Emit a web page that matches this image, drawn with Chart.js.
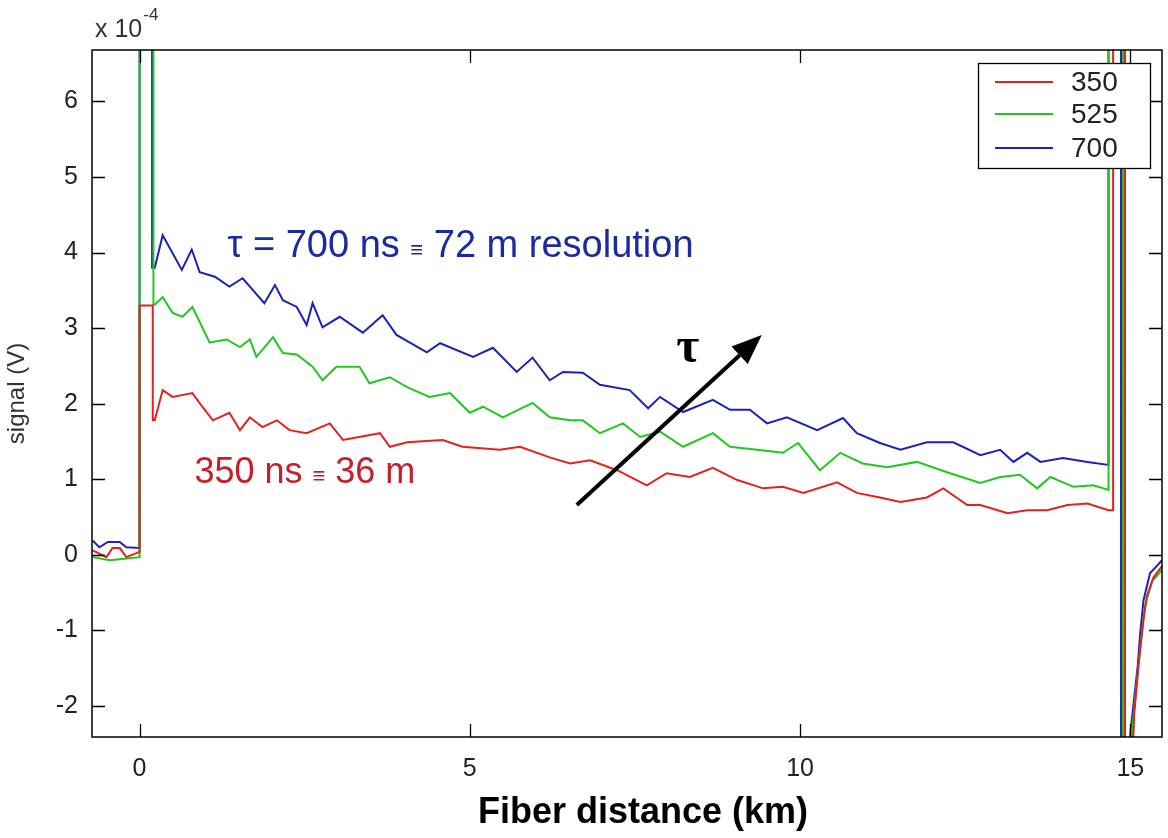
<!DOCTYPE html>
<html>
<head>
<meta charset="utf-8">
<title>OTDR trace</title>
<script src="https://cdn.jsdelivr.net/npm/chart.js@4.4.1/dist/chart.umd.min.js"></script>
<style>
  html, body { margin: 0; padding: 0; background: #fff; }
  canvas { display: block; }
</style>
</head>
<body>
<canvas id="otdr" width="1168" height="838"></canvas>
<script>
// pulse widths (ns) shown in the legend
const pulseLabels = ["350", "525", "700"];
const xTicksStep = 5;
const yTicksStep = 1;

// 350 ns trace: distance (km) / signal (x1e-4 V)
const redKm = [-0.71, -0.5, -0.41, -0.3, -0.2, 0, 0, 0.2, 0.2, 0.23, 0.35, 0.5, 0.8, 0.95, 1.11, 1.36, 1.52, 1.67, 1.86, 2.08, 2.27, 2.53, 2.88, 3.08, 3.64, 3.79, 4.05, 4.59, 4.89, 5.45, 5.76, 6.21, 6.52, 6.82, 7.23, 7.68, 7.98, 8.33, 8.68, 9.05, 9.44, 9.74, 10.05, 10.56, 10.86, 11.21, 11.52, 11.92, 12.17, 12.53, 12.73, 13.14, 13.44, 13.74, 14.05, 14.35, 14.67, 14.74, 14.74, 14.92, 14.92, 15.02, 15.06, 15.13, 15.2, 15.25, 15.35, 15.48];
const redSig = [0.06, -0.03, 0.09, 0.09, -0.03, 0.04, 3.3, 3.3, 1.78, 1.78, 2.18, 2.09, 2.14, 1.96, 1.78, 1.88, 1.65, 1.82, 1.69, 1.78, 1.65, 1.61, 1.74, 1.52, 1.61, 1.43, 1.49, 1.52, 1.43, 1.39, 1.43, 1.29, 1.21, 1.25, 1.12, 0.92, 1.08, 1.03, 1.15, 0.99, 0.88, 0.9, 0.82, 0.96, 0.82, 0.76, 0.7, 0.76, 0.88, 0.66, 0.66, 0.55, 0.59, 0.59, 0.66, 0.68, 0.59, 0.59, 9, 9, -3, -3, -2.1, -1.4, -0.85, -0.55, -0.3, -0.15];

// 525 ns trace
const greenKm = [-0.71, -0.45, -0.23, 0, 0, 0.21, 0.21, 0.23, 0.35, 0.5, 0.65, 0.8, 1.06, 1.32, 1.52, 1.67, 1.77, 2.02, 2.17, 2.38, 2.62, 2.77, 2.98, 3.33, 3.48, 3.79, 4.05, 4.39, 4.7, 5.0, 5.2, 5.5, 5.95, 6.21, 6.52, 6.71, 6.97, 7.32, 7.58, 7.88, 8.23, 8.68, 8.94, 9.35, 9.74, 9.97, 10.3, 10.61, 10.95, 11.32, 11.77, 12.27, 12.73, 13.03, 13.33, 13.59, 13.79, 14.14, 14.44, 14.67, 14.67, 14.89, 14.89, 15.0, 15.03, 15.12, 15.18, 15.23, 15.33, 15.48];
const greenSig = [-0.03, -0.07, -0.05, -0.03, 9, 9, 3.31, 3.31, 3.41, 3.2, 3.15, 3.28, 2.81, 2.85, 2.75, 2.85, 2.62, 2.88, 2.67, 2.65, 2.49, 2.31, 2.49, 2.49, 2.27, 2.35, 2.22, 2.09, 2.14, 1.88, 1.96, 1.82, 2.01, 1.82, 1.78, 1.78, 1.61, 1.74, 1.56, 1.63, 1.43, 1.61, 1.43, 1.39, 1.35, 1.48, 1.12, 1.35, 1.21, 1.16, 1.23, 1.08, 0.95, 1.03, 1.06, 0.88, 1.03, 0.9, 0.92, 0.86, 9, 9, -3, -3, -2.3, -1.5, -1.0, -0.65, -0.35, -0.2];

// 700 ns trace
const blueKm = [-0.71, -0.61, -0.48, -0.3, -0.2, 0, 0, 0.19, 0.19, 0.23, 0.35, 0.64, 0.79, 0.91, 1.14, 1.36, 1.56, 1.71, 1.89, 2.05, 2.17, 2.38, 2.53, 2.62, 2.77, 3.03, 3.38, 3.68, 3.89, 4.35, 4.55, 5.05, 5.35, 5.71, 5.95, 6.21, 6.41, 6.71, 6.97, 7.42, 7.7, 7.88, 8.23, 8.68, 8.94, 9.24, 9.5, 9.8, 10.26, 10.65, 10.86, 11.21, 11.52, 11.92, 12.32, 12.73, 13.03, 13.23, 13.44, 13.64, 13.98, 14.35, 14.67, 14.67, 14.86, 14.86, 14.99, 15.0, 15.11, 15.15, 15.2, 15.3, 15.41, 15.48];
const blueSig = [0.19, 0.1, 0.17, 0.17, 0.1, 0.09, 9, 9, 3.8, 3.8, 4.23, 3.77, 4.04, 3.74, 3.68, 3.55, 3.66, 3.51, 3.33, 3.57, 3.37, 3.28, 3.04, 3.33, 3.01, 3.15, 2.94, 3.17, 2.91, 2.68, 2.8, 2.62, 2.74, 2.42, 2.61, 2.31, 2.42, 2.41, 2.25, 2.18, 1.94, 2.09, 1.89, 2.05, 1.92, 1.92, 1.74, 1.82, 1.65, 1.81, 1.61, 1.48, 1.39, 1.49, 1.49, 1.32, 1.39, 1.23, 1.35, 1.23, 1.28, 1.23, 1.19, 9, 9, -3, -3, -2.36, -1.49, -1.04, -0.6, -0.24, -0.14, -0.07];

const red = "#e3221f";
const green = "#22c81e";
const blue = "#1e22b4";
const fontFamily = "'Liberation Sans', Arial, sans-serif";

function pairs(km, sig) {
  return km.map((k, i) => ({ x: k, y: sig[i] }));
}

// frame, inward ticks, legend box and annotations
const overlay = {
  id: "overlay",
  afterDraw(chart) {
    const { ctx, chartArea: a, scales: { x, y } } = chart;
    ctx.save();

    ctx.strokeStyle = "#000";
    ctx.lineWidth = 1.5;
    ctx.strokeRect(a.left, a.top, a.right - a.left, a.bottom - a.top);

    const tl = 13;
    ctx.beginPath();
    x.ticks.forEach((t) => {
      const px = Math.round(x.getPixelForValue(t.value)) + 0.5;
      ctx.moveTo(px, a.bottom); ctx.lineTo(px, a.bottom - tl);
      ctx.moveTo(px, a.top); ctx.lineTo(px, a.top + tl);
    });
    y.ticks.forEach((t) => {
      const py = Math.round(y.getPixelForValue(t.value)) + 0.5;
      ctx.moveTo(a.left, py); ctx.lineTo(a.left + tl, py);
      ctx.moveTo(a.right, py); ctx.lineTo(a.right - tl, py);
    });
    ctx.lineWidth = 1.3;
    ctx.stroke();

    // exponent above the y axis
    ctx.fillStyle = "#333";
    ctx.textBaseline = "alphabetic";
    ctx.textAlign = "left";
    ctx.font = "25px " + fontFamily;
    ctx.fillText("x 10", a.left + 3, 37);
    const w10 = ctx.measureText("x 10").width;
    ctx.font = "17px " + fontFamily;
    ctx.fillText("-4", a.left + 4 + w10, 20);

    // x axis title
    ctx.fillStyle = "#000";
    ctx.textAlign = "center";
    ctx.font = "bold 36px " + fontFamily;
    ctx.fillText("Fiber distance (km)", (a.left + a.right) / 2 + 16, 823);
    ctx.textAlign = "left";

    // legend
    const bw = 172, bh = 105;
    const bx = a.right - 12 - bw, by = a.top + 13;
    ctx.fillStyle = "#fff";
    ctx.fillRect(bx, by, bw, bh);
    ctx.strokeStyle = "#000";
    ctx.lineWidth = 1.3;
    ctx.strokeRect(bx + 0.5, by + 0.5, bw, bh);
    const rows = [19, 51, 85];
    chart.data.datasets.forEach((ds, i) => {
      const ly = by + rows[i];
      ctx.strokeStyle = ds.borderColor;
      ctx.lineWidth = 2;
      ctx.beginPath();
      ctx.moveTo(bx + 17, ly);
      ctx.lineTo(bx + 75, ly);
      ctx.stroke();
      ctx.fillStyle = "#222";
      ctx.font = "28px " + fontFamily;
      ctx.textBaseline = "middle";
      ctx.fillText(ds.label, bx + 93, ly + 1);
    });

    // text runs with a smaller equivalence sign
    function runs(parts, px, py, color) {
      ctx.fillStyle = color;
      ctx.textBaseline = "alphabetic";
      let cx = px;
      parts.forEach(([txt, size]) => {
        ctx.font = size + "px " + fontFamily;
        ctx.fillText(txt, cx, py);
        cx += ctx.measureText(txt).width;
      });
    }
    runs([["\u03c4 = 700 ns ", 38], ["\u2261", 22], [" 72 m resolution", 38]],
      x.getPixelForValue(1.33), y.getPixelForValue(3.94), "#1b2a9e");
    runs([["350 ns ", 36], ["\u2261", 22], [" 36 m", 36]],
      x.getPixelForValue(0.83), y.getPixelForValue(0.95), "#c41f2b");

    // tau arrow
    const x0 = x.getPixelForValue(6.62), y0 = y.getPixelForValue(0.66);
    const x1 = x.getPixelForValue(9.42), y1 = y.getPixelForValue(2.91);
    const ang = Math.atan2(y1 - y0, x1 - x0);
    const head = 30, half = 12;
    const bxh = x1 - head * Math.cos(ang), byh = y1 - head * Math.sin(ang);
    ctx.strokeStyle = "#000";
    ctx.lineWidth = 4;
    ctx.beginPath();
    ctx.moveTo(x0, y0);
    ctx.lineTo(bxh, byh);
    ctx.stroke();
    ctx.fillStyle = "#000";
    ctx.beginPath();
    ctx.moveTo(x1, y1);
    ctx.lineTo(bxh + half * Math.sin(ang), byh - half * Math.cos(ang));
    ctx.lineTo(bxh - half * Math.sin(ang), byh + half * Math.cos(ang));
    ctx.closePath();
    ctx.fill();

    ctx.font = "bold 50px 'Liberation Serif', 'Times New Roman', serif";
    ctx.textAlign = "center";
    ctx.textBaseline = "alphabetic";
    ctx.fillText("\u03c4", x.getPixelForValue(8.3), y.getPixelForValue(2.55));

    ctx.restore();
  },
};

const lineStyle = { pointRadius: 0, borderWidth: 2, tension: 0, fill: false };

new Chart(document.getElementById("otdr"), {
  type: "line",
  data: {
    datasets: [
      { label: pulseLabels[0], data: pairs(redKm, redSig), borderColor: red, ...lineStyle },
      { label: pulseLabels[1], data: pairs(greenKm, greenSig), borderColor: green, ...lineStyle },
      { label: pulseLabels[2], data: pairs(blueKm, blueSig), borderColor: blue, ...lineStyle },
    ],
  },
  options: {
    responsive: false,
    animation: false,
    events: [],
    layout: { padding: { top: 50, right: 6, left: 0, bottom: 0 } },
    plugins: { legend: { display: false }, tooltip: { enabled: false } },
    scales: {
      x: {
        type: "linear",
        min: -0.72,
        max: 15.48,
        ticks: {
          stepSize: xTicksStep,
          includeBounds: false,
          maxRotation: 0,
          padding: 17,
          color: "#222",
          font: { family: fontFamily, size: 25 },
        },
        grid: { display: false, drawTicks: false },
        border: { display: false },
        afterFit: (s) => { s.height = 101; },
      },
      y: {
        min: -2.41,
        max: 6.68,
        ticks: {
          stepSize: yTicksStep,
          includeBounds: false,
          padding: 14,
          color: "#222",
          font: { family: fontFamily, size: 25 },
        },
        grid: { display: false, drawTicks: false },
        border: { display: false },
        title: {
          display: true,
          text: "signal (V)",
          color: "#333",
          font: { family: fontFamily, size: 24 },
          padding: { top: 3, bottom: 0 },
        },
        afterFit: (s) => { s.width = 92; },
      },
    },
  },
  plugins: [overlay],
});
</script>
</body>
</html>
